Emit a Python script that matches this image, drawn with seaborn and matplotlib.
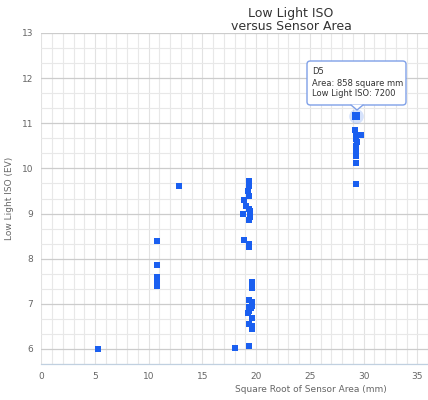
import numpy as np
import pandas as pd
import seaborn as sns
import matplotlib.pyplot as plt
from matplotlib.ticker import MultipleLocator
from matplotlib.patches import FancyBboxPatch, Polygon

# sqrt of sensor area (mm) and low light ISO (EV)
sqrt_area = [5.3,
             10.8, 10.8, 10.8, 10.8, 10.8, 10.8, 10.8,
             12.8,
             18.0, 19.3,
             19.6, 19.3, 19.6, 19.6, 19.2, 19.3, 19.5, 19.3, 19.6, 19.6, 19.3, 19.6, 19.6,
             18.9, 19.35, 19.35,
             19.3, 19.4, 18.8, 19.4, 19.3, 19.1, 18.9, 19.3, 19.2, 19.3, 19.3,
             29.3, 29.3, 29.3, 29.3, 29.3, 29.3, 29.4, 29.3, 29.8, 29.3, 29.2]
low_light_ev = [6.0,
                8.4, 7.87, 7.6, 7.55, 7.5, 7.45, 7.4,
                9.62,
                6.02, 6.06,
                6.45, 6.55, 6.5, 6.68, 6.8, 6.85, 6.9, 6.92, 6.95, 7.03, 7.08, 7.34, 7.49,
                8.41, 8.33, 8.25,
                8.85, 8.92, 9.0, 9.05, 9.1, 9.16, 9.3, 9.38, 9.5, 9.6, 9.72,
                9.66, 10.12, 10.28, 10.35, 10.42, 10.5, 10.58, 10.65, 10.75, 10.75, 10.86]

# highlighted camera (tooltip)
hl_name = "D5"
hl_area = 858
hl_iso = 7200
hl_x = 29.29
hl_y = 11.17

blue = "#1a5ff0"
df = pd.DataFrame({"x": sqrt_area, "y": low_light_ev})

sns.set_style("white")
plt.rcParams['font.family'] = ['Lucida Grande', 'DejaVu Sans']

fig = plt.figure(figsize=(4.28, 4.0), dpi=100)
ax = fig.add_axes([41.3 / 428, 36 / 400, (428 - 41.3) / 428, (364 - 33) / 400])

sns.scatterplot(data=df, x="x", y="y", marker="s", s=19, color=blue,
                linewidth=0, ax=ax, zorder=3)
# highlighted point with halo
ax.scatter([hl_x], [hl_y], marker="o", s=110, color=blue, alpha=0.18, linewidth=0, zorder=3)
ax.scatter([hl_x], [hl_y], marker="s", s=30, color=blue, linewidth=0, zorder=4)

ax.set_xlim(0, 36)
ax.set_ylim(6 - 1 / 3, 13)
ax.xaxis.set_major_locator(MultipleLocator(5))
ax.xaxis.set_minor_locator(MultipleLocator(1))
ax.yaxis.set_major_locator(MultipleLocator(1))
ax.yaxis.set_minor_locator(MultipleLocator(1 / 3))

ax.grid(which="minor", axis="both", color="#e8e8e8", linewidth=0.8)
ax.grid(which="major", axis="x", color="#e2e2e2", linewidth=0.8)
ax.grid(which="major", axis="y", color="#cccccc", linewidth=0.9)
ax.set_axisbelow(True)

for s in ["top", "right", "left"]:
    ax.spines[s].set_visible(False)
ax.spines["bottom"].set_color("#c0d0e0")
ax.spines["bottom"].set_linewidth(0.9)

ax.tick_params(which="both", length=0, labelsize=6.5, labelcolor="#666666")
ax.tick_params(axis="x", pad=6)
ax.tick_params(axis="y", pad=6)
ax.set_xlabel("")
ax.set_ylabel("")

fig.text(291 / 428, 1 - 13 / 400, "Low Light ISO", ha="center", va="center",
         fontsize=9, color="#333333")
fig.text(291 / 428, 1 - 27 / 400, "versus Sensor Area", ha="center", va="center",
         fontsize=9, color="#333333")
fig.text(311 / 428, 1 - 389 / 400, "Square Root of Sensor Area (mm)", ha="center",
         va="center", fontsize=6.5, color="#666666")
fig.text(10 / 428, 1 - 198 / 400, "Low Light ISO (EV)", ha="center", va="center",
         rotation=90, fontsize=6.5, color="#666666")

# tooltip box
x0, y0, x1, y1 = 307 / 428, 1 - 105 / 400, 406 / 428, 1 - 61 / 400
box = FancyBboxPatch((x0, y0), x1 - x0, y1 - y0, boxstyle="round,pad=0,rounding_size=0.008",
                     transform=fig.transFigure, facecolor="white", edgecolor="#7fa0e8",
                     linewidth=1.0, zorder=10)
fig.add_artist(box)
tip = Polygon([(351 / 428, y0 + 0.001), (363 / 428, y0 + 0.001), (357 / 428, 1 - 110 / 400)],
              closed=True, transform=fig.transFigure, facecolor="white",
              edgecolor="none", zorder=11)
fig.add_artist(tip)
fig.add_artist(plt.Line2D([351 / 428, 357 / 428, 363 / 428],
                          [y0, 1 - 110 / 400, y0], transform=fig.transFigure,
                          color="#7fa0e8", linewidth=1.0, zorder=12))
lines = [hl_name, f"Area: {hl_area} square mm", f"Low Light ISO: {hl_iso}"]
for i, t in enumerate(lines):
    fig.text(312 / 428, 1 - (72 + 11 * i) / 400, t, ha="left", va="center",
             fontsize=6, color="#333333", zorder=13)

fig.savefig("out.png", dpi=100)
